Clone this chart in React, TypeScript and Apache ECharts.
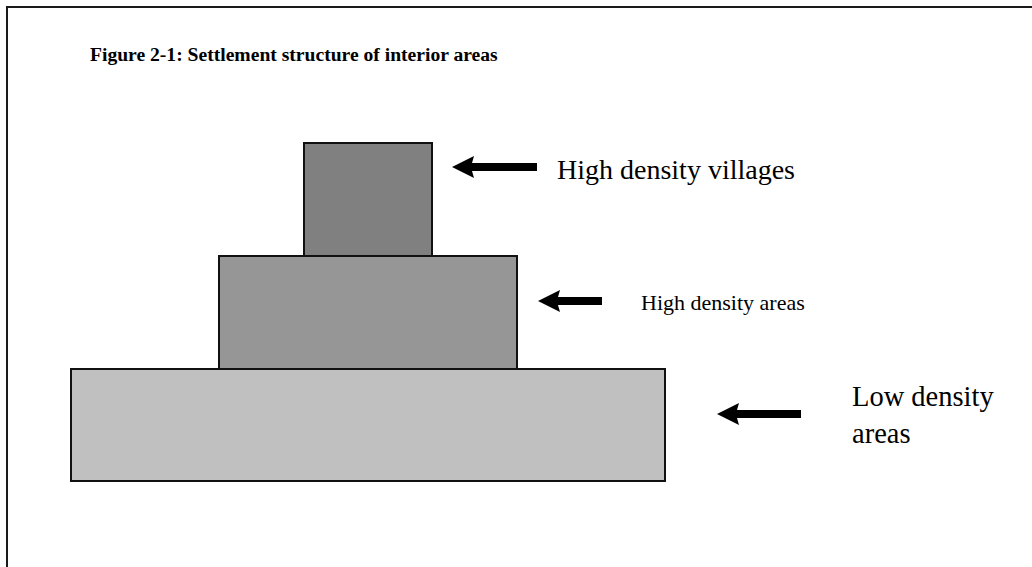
import React, { useEffect, useRef } from "react";
import * as echarts from "echarts";

const titleText = "Figure 2-1: Settlement structure of interior areas";

// Layers of the settlement pyramid (diagram units = pixels of the 1032x567 figure)
const layerNames = ["High density villages", "High density areas", "Low density areas"];
const layerLeft = [304, 219, 71];
const layerRight = [432, 517, 665];
const layerTop = [143, 256, 369];
const layerBottom = [256, 369, 481];

// Arrows pointing to each layer
const arrowTip = [452, 538, 717];
const arrowEnd = [537, 602, 801];
const arrowLevel = [167, 301, 414];

// Labels
const labelLines = [["High density villages"], ["High density areas"], ["Low density", "areas"]];
const labelLeft = [557, 641, 852];
const labelLevel = [169, 302, 396];

const fills = ["#808080", "#969696", "#c0c0c0"];
const labelSizes = [28, 22, 28.5];

export default function App() {
  const ref = useRef<HTMLDivElement>(null);
  useEffect(() => {
    if (!ref.current) return;
    const chart = echarts.init(ref.current, undefined, { renderer: "svg" });
    const data = layerNames.map((n, i) => ({ name: n, value: [i] }));
    chart.setOption({
      animation: false,
      backgroundColor: "#ffffff",
      title: {
        text: titleText,
        left: 85,
        top: 39,
        textStyle: {
          fontFamily: "Liberation Serif",
          fontWeight: "bold",
          fontSize: 19.6,
          color: "#000",
        },
      },
      grid: { left: 0, right: 0, top: 0, bottom: 0 },
      xAxis: { type: "value", min: 0, max: 1032, show: false },
      yAxis: { type: "value", min: 0, max: 567, inverse: true, show: false },
      graphic: [
        { type: "line", shape: { x1: 6, y1: 7, x2: 1032, y2: 7 }, style: { stroke: "#1a1a1a", lineWidth: 2 } },
        { type: "line", shape: { x1: 7, y1: 6, x2: 7, y2: 567 }, style: { stroke: "#1a1a1a", lineWidth: 2 } },
      ],
      series: [
        {
          type: "custom",
          data,
          renderItem: (params: any, api: any) => {
            const i = params.dataIndex;
            const p0 = api.coord([layerLeft[i], layerTop[i]]);
            const p1 = api.coord([layerRight[i], layerBottom[i]]);
            const tip = api.coord([arrowTip[i], arrowLevel[i]]);
            const end = api.coord([arrowEnd[i], arrowLevel[i]]);
            const hl = 22, hh = 11, sh = 4;
            const tx = tip[0], ty = tip[1], ex = end[0];
            const lab = api.coord([labelLeft[i], labelLevel[i]]);
            const lines = labelLines[i];
            const fs = labelSizes[i];
            const lh = 37;
            const children: any[] = [
              {
                type: "rect",
                shape: { x: p0[0], y: p0[1], width: p1[0] - p0[0], height: p1[1] - p0[1] },
                style: { fill: fills[i], stroke: "#111", lineWidth: 2 },
              },
              {
                type: "polygon",
                shape: {
                  points: [
                    [tx, ty],
                    [tx + hl, ty - hh],
                    [tx + hl - 2, ty - sh],
                    [ex, ty - sh],
                    [ex, ty + sh],
                    [tx + hl - 2, ty + sh],
                    [tx + hl, ty + hh],
                  ],
                },
                style: { fill: "#000" },
              },
            ];
            lines.forEach((t, k) => {
              children.push({
                type: "text",
                style: {
                  text: t,
                  x: lab[0],
                  y: lab[1] + k * lh,
                  font: `${fs}px "Liberation Serif"`,
                  fill: "#000",
                  textAlign: "left",
                  textVerticalAlign: "middle",
                },
              });
            });
            return { type: "group", children };
          },
        },
      ],
    });
    return () => chart.dispose();
  }, []);
  return <div ref={ref} style={{ position: "fixed", left: 0, top: 0, width: 1032, height: 567 }} />;
}
